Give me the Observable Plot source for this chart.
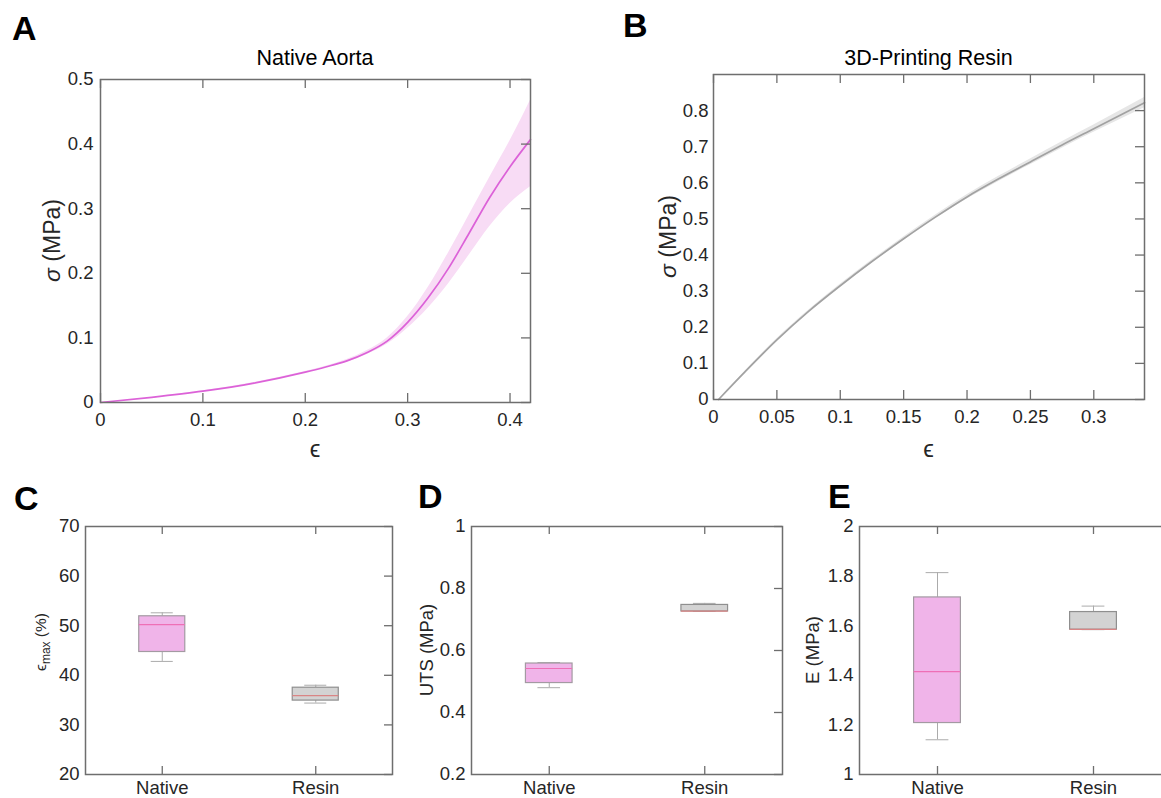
<!DOCTYPE html>
<html><head><meta charset="utf-8">
<script src="https://cdn.jsdelivr.net/npm/d3@7"></script>
<script src="https://cdn.jsdelivr.net/npm/@observablehq/plot@0.6"></script>
<style>
html,body{margin:0;padding:0;background:#fff;overflow:hidden}
#page{position:relative;width:1161px;height:798px;overflow:hidden;background:#fff}
#page > svg{position:absolute}
</style></head><body><div id="page"></div>
<script>
// ---------- data ----------
const aortaStrain = [0, 0.05, 0.1, 0.15, 0.2, 0.22, 0.24, 0.26, 0.28, 0.30, 0.32, 0.34, 0.36, 0.38, 0.40, 0.42];
const aortaMean   = [0, 0.008, 0.0175, 0.03, 0.047, 0.055, 0.064, 0.077, 0.095, 0.124, 0.162, 0.208, 0.262, 0.317, 0.365, 0.407];
const aortaUpper  = [0, 0.008, 0.018, 0.031, 0.048, 0.056, 0.066, 0.080, 0.100, 0.133, 0.178, 0.232, 0.290, 0.348, 0.405, 0.468];
const aortaLower  = [0, 0.008, 0.017, 0.029, 0.046, 0.054, 0.062, 0.074, 0.090, 0.115, 0.146, 0.184, 0.228, 0.272, 0.308, 0.334];

const resinStrain = [0.004, 0.025, 0.05, 0.075, 0.1, 0.125, 0.15, 0.175, 0.2, 0.225, 0.25, 0.275, 0.3, 0.34];
const resinMean   = [0, 0.077, 0.165, 0.244, 0.315, 0.382, 0.445, 0.505, 0.561, 0.611, 0.658, 0.705, 0.75, 0.822];
const resinUpper  = [0, 0.079, 0.168, 0.247, 0.319, 0.386, 0.450, 0.510, 0.567, 0.618, 0.666, 0.714, 0.760, 0.836];
const resinLower  = [0, 0.075, 0.162, 0.241, 0.311, 0.378, 0.440, 0.500, 0.555, 0.604, 0.650, 0.696, 0.740, 0.808];

const groups = ["Native", "Resin"];
// eps_max (%)
const emaxMin = [42.8, 34.4], emaxQ1 = [44.7, 34.9], emaxMed = [50.2, 35.9], emaxQ3 = [51.9, 37.5], emaxMax = [52.6, 38.0];
// UTS (MPa)
const utsMin = [0.480, 0.726], utsQ1 = [0.495, 0.726], utsMed = [0.542, 0.727], utsQ3 = [0.558, 0.747], utsMax = [0.561, 0.752];
// E (MPa)
const modMin = [1.140, 1.584], modQ1 = [1.2075, 1.584], modMed = [1.415, 1.585], modQ3 = [1.714, 1.655], modMax = [1.814, 1.679];

// tick labels
const aortaXTicks = [0, 0.1, 0.2, 0.3, 0.4];
const aortaYTicks = [0, 0.1, 0.2, 0.3, 0.4, 0.5];
const resinXTicks = [0, 0.05, 0.1, 0.15, 0.2, 0.25, 0.3];
const resinYTicks = [0, 0.1, 0.2, 0.3, 0.4, 0.5, 0.6, 0.7, 0.8];
const emaxTicks = [20, 30, 40, 50, 60, 70];
const utsTicks = [0.2, 0.4, 0.6, 0.8, 1];
const modTicks = [1, 1.2, 1.4, 1.6, 1.8, 2];

// ---------- style ----------
const FONT = '"Liberation Sans", Arial, Helvetica, sans-serif';
const TXT = "#262626";
const AX = "#6e6e6e";
const TICKFONT = 18.5;
const boxFill = ["#f0b4e9", "#d3d3d3"];
const boxEdge = ["#a39aa2", "#8f8f8f"];
const medColor = ["#ee6fb6", "#d98585"];
const whiskColor = "#ababab";

const page = document.getElementById("page");
function place(svg, left, top) {
  svg.style.left = left + "px";
  svg.style.top = top + "px";
  page.appendChild(svg);
}
const fmt = d => String(d);

function curvePanel(o) {
  const fw = o.width - o.ml - o.mr, fh = o.height - o.mt - o.mb;
  const table = o.strain.map((s, i) => ({strain: s, mean: o.mean[i], upper: o.upper[i], lower: o.lower[i]}));
  return Plot.plot({
    width: o.width, height: o.height,
    marginLeft: o.ml, marginRight: o.mr, marginTop: o.mt, marginBottom: o.mb,
    style: {fontFamily: FONT, fontSize: TICKFONT + "px", color: TXT, background: "transparent", overflow: "visible"},
    x: {domain: o.xDomain, nice: false},
    y: {domain: o.yDomain, nice: false},
    marks: [
      Plot.areaY(table, {x: "strain", y1: "lower", y2: "upper", fill: o.bandColor, curve: "monotone-x"}),
      Plot.lineY(table, {x: "strain", y: "mean", stroke: o.lineColor, strokeWidth: 1.7, curve: "monotone-x"}),
      Plot.tickX(o.xTicks, {x: d => d, insetTop: fh - 9, stroke: AX, strokeWidth: 1.3}),
      Plot.tickX(o.xTicks, {x: d => d, insetBottom: fh - 9, stroke: AX, strokeWidth: 1.3}),
      Plot.tickY(o.yTicks, {y: d => d, insetLeft: fw - 9, stroke: AX, strokeWidth: 1.3}),
      Plot.frame({stroke: AX, strokeWidth: 1.5}),
      Plot.axisX({ticks: o.xTicks, tickSize: 0, tickPadding: 10, tickFormat: fmt, label: null, fill: TXT, fontSize: TICKFONT}),
      Plot.axisY({ticks: o.yTicks, tickSize: 0, tickPadding: o.ypad, tickFormat: fmt, label: null, fill: TXT, fontSize: TICKFONT})
    ]
  });
}

function boxPanel(o) {
  const fw = o.width - o.ml - o.mr, fh = o.height - o.mt - o.mb;
  const table = groups.map((g, i) => ({group: g, i, min: o.min[i], q1: o.q1[i], med: o.med[i], q3: o.q3[i], max: o.max[i]}));
  return Plot.plot({
    width: o.width, height: o.height,
    marginLeft: o.ml, marginRight: o.mr, marginTop: o.mt, marginBottom: o.mb,
    style: {fontFamily: FONT, fontSize: TICKFONT + "px", color: TXT, background: "transparent", overflow: "visible"},
    x: {type: "band", domain: groups, paddingInner: 0.7, paddingOuter: 0.35, round: false},
    y: {domain: o.yDomain, nice: false},
    marks: [
      Plot.ruleX(table, {x: "group", y1: "q3", y2: "max", stroke: whiskColor, strokeWidth: 1}),
      Plot.ruleX(table, {x: "group", y1: "min", y2: "q1", stroke: whiskColor, strokeWidth: 1}),
      Plot.tickY(table, {x: "group", y: "max", insetLeft: 12, insetRight: 12, stroke: whiskColor, strokeWidth: 1}),
      Plot.tickY(table, {x: "group", y: "min", insetLeft: 12, insetRight: 12, stroke: whiskColor, strokeWidth: 1}),
      Plot.barY(table, {x: "group", y1: "q1", y2: "q3", fill: d => boxFill[d.i], stroke: d => boxEdge[d.i], strokeWidth: 1.2}),
      Plot.tickY(table, {x: "group", y: "med", stroke: d => medColor[d.i], strokeWidth: 1.2}),
      Plot.tickX(groups, {x: d => d, insetTop: fh - 8, stroke: AX, strokeWidth: 1.3}),
      Plot.tickX(groups, {x: d => d, insetBottom: fh - 8, stroke: AX, strokeWidth: 1.3}),
      Plot.tickY(o.yTicks, {y: d => d, insetLeft: fw - 8, stroke: AX, strokeWidth: 1.3}),
      Plot.frame({stroke: AX, strokeWidth: 1.5}),
      Plot.axisX({tickSize: 0, tickPadding: 6, label: null, fill: TXT, fontSize: TICKFONT}),
      Plot.axisY({ticks: o.yTicks, tickSize: 0, tickPadding: 6, tickFormat: fmt, label: null, fill: TXT, fontSize: TICKFONT})
    ]
  });
}

// A
place(curvePanel({strain: aortaStrain, mean: aortaMean, upper: aortaUpper, lower: aortaLower,
  xDomain: [0, 0.42], yDomain: [0, 0.5], xTicks: aortaXTicks, yTicks: aortaYTicks,
  lineColor: "#dc62d8", bandColor: "#f8dcf5", width: 560, height: 470, ml: 100, mr: 30, mt: 79, mb: 68, ypad: 7}), 0, 0);
// B
place(curvePanel({strain: resinStrain, mean: resinMean, upper: resinUpper, lower: resinLower,
  xDomain: [0, 0.34], yDomain: [0, 0.9], xTicks: resinXTicks, yTicks: resinYTicks,
  lineColor: "#a2a2a2", bandColor: "#e6e6e6", width: 561, height: 470, ml: 113, mr: 17, mt: 74, mb: 71, ypad: 5}), 600, 0);
// C
place(boxPanel({min: emaxMin, q1: emaxQ1, med: emaxMed, q3: emaxQ3, max: emaxMax, yDomain: [20, 70], yTicks: emaxTicks,
  width: 420, height: 328, ml: 85, mr: 28, mt: 56, mb: 24}), 0, 470);
// D
place(boxPanel({min: utsMin, q1: utsQ1, med: utsMed, q3: utsQ3, max: utsMax, yDomain: [0.2, 1], yTicks: utsTicks,
  width: 400, height: 328, ml: 71, mr: 18, mt: 56, mb: 24}), 400, 470);
// E
place(boxPanel({min: modMin, q1: modQ1, med: modMed, q3: modQ3, max: modMax, yDomain: [1, 2], yTicks: modTicks,
  width: 400, height: 328, ml: 79, mr: 9, mt: 56, mb: 24}), 780, 470);

// ---------- labels overlay ----------
const ov = d3.select(page).append("svg")
  .attr("width", 1161).attr("height", 798)
  .style("left", "0px").style("top", "0px").style("pointer-events", "none")
  .attr("font-family", FONT).attr("fill", TXT);

const letters = [["A", 12, 40], ["B", 623, 37], ["C", 14, 510], ["D", 418, 508], ["E", 828, 508]];
ov.selectAll("text.letter").data(letters).join("text").attr("class", "letter")
  .attr("x", d => d[1]).attr("y", d => d[2]).attr("font-size", 34).attr("font-weight", "bold").attr("fill", "#000")
  .text(d => d[0]);

const titles = [["Native Aorta", 315, 65], ["3D-Printing Resin", 928.5, 65]];
ov.selectAll("text.title").data(titles).join("text").attr("class", "title")
  .attr("x", d => d[1]).attr("y", d => d[2]).attr("font-size", 21.5).attr("text-anchor", "middle").attr("fill", "#000")
  .text(d => d[0]);

const xlabels = [[315, 457], [928.5, 457]];
ov.selectAll("text.xl").data(xlabels).join("text").attr("class", "xl")
  .attr("x", d => d[0]).attr("y", d => d[1]).attr("font-size", 24).attr("text-anchor", "middle")
  .text("ϵ");

function ylabel(x, y, size, build) {
  const t = ov.append("text").attr("transform", `translate(${x},${y}) rotate(-90)`)
    .attr("font-size", size).attr("text-anchor", "middle");
  build(t);
}
ylabel(60, 240.5, 23, t => { t.append("tspan").attr("font-style", "italic").text("σ"); t.append("tspan").text(" (MPa)"); });
ylabel(676, 236.5, 23, t => { t.append("tspan").attr("font-style", "italic").text("σ"); t.append("tspan").text(" (MPa)"); });
ylabel(46, 642, 15.5, t => {
  t.append("tspan").text("ϵ");
  t.append("tspan").attr("dy", 4).attr("font-size", 12).text("max");
  t.append("tspan").attr("dy", -4).text(" (%)");
});
ylabel(433, 650, 18.5, t => t.text("UTS (MPa)"));
ylabel(819, 650, 18.5, t => t.text("E (MPa)"));
</script></body></html>
